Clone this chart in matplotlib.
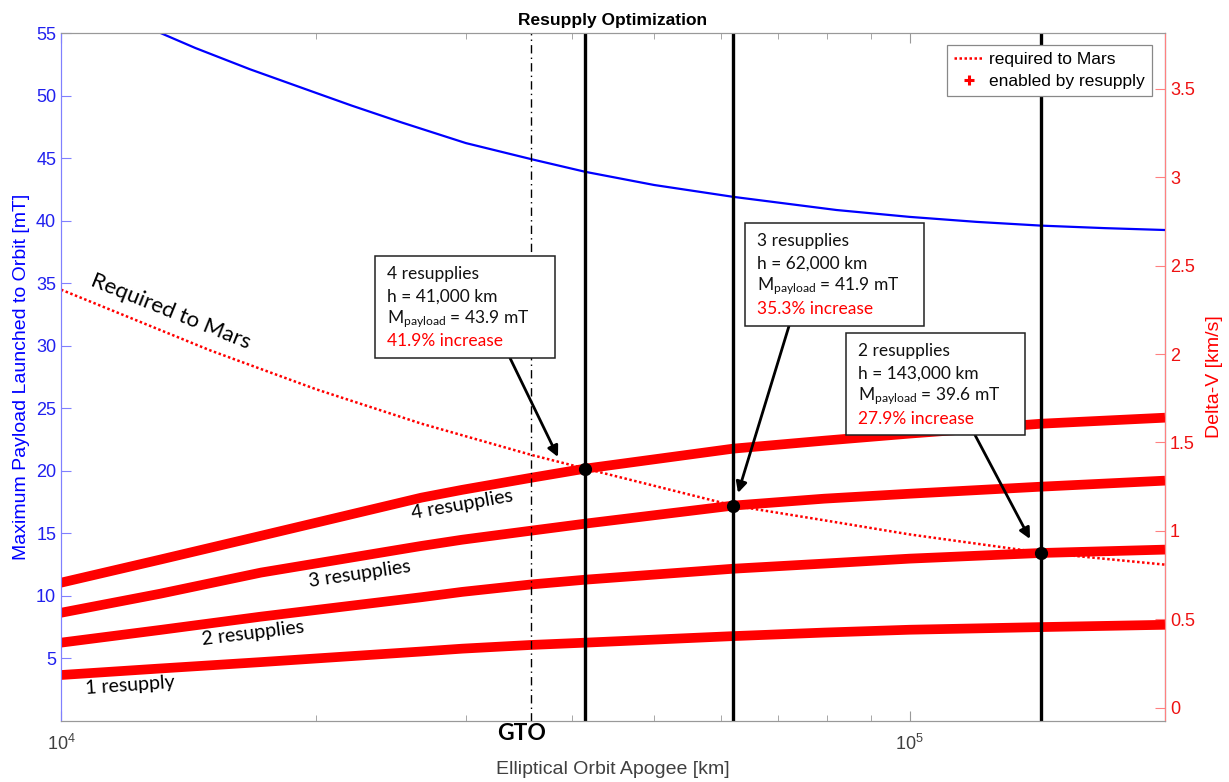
import matplotlib
matplotlib.use("Agg")
import matplotlib.pyplot as plt
from matplotlib.lines import Line2D
from matplotlib.patches import Rectangle
from matplotlib.ticker import FixedLocator, LogLocator, NullFormatter

plt.rcParams["font.family"] = ["Liberation Sans", "DejaVu Sans"]
plt.rcParams["mathtext.default"] = "regular"

# apogee samples [km] for the resupply curves
apogee = [10000, 13100, 17200, 26600, 29700, 35800, 41500, 62000, 79300, 100000, 143000, 200000]
# delta-V enabled by resupply [km/s]
dv_1 = [0.185, 0.222, 0.258, 0.318, 0.334, 0.355, 0.368, 0.405, 0.425, 0.441, 0.456, 0.469]
dv_2 = [0.368, 0.440, 0.515, 0.625, 0.655, 0.697, 0.724, 0.786, 0.815, 0.843, 0.875, 0.894]
dv_3 = [0.537, 0.645, 0.764, 0.915, 0.950, 1.001, 1.041, 1.143, 1.182, 1.210, 1.250, 1.284]
dv_4 = [0.707, 0.838, 0.972, 1.188, 1.232, 1.300, 1.352, 1.465, 1.510, 1.550, 1.606, 1.640]

# delta-V required to Mars [km/s]
mars_apogee = [10000, 15000, 20000, 26600, 35800, 41500, 62000, 79300, 100000, 143000, 200000]
mars_dv = [2.364, 2.02, 1.80, 1.606, 1.43, 1.352, 1.143, 1.06, 0.98, 0.877, 0.809]

# max payload launched to orbit [mT]
payload_apogee = [13100, 14400, 16700, 20000, 22000, 25200, 30000, 35900, 41500, 50000,
                  62000, 82000, 100000, 120000, 143000, 170000, 200000]
payload_mt = [55.0, 53.8, 52.1, 50.2, 49.2, 47.85, 46.2, 44.9, 43.9, 42.85,
              41.9, 40.85, 40.3, 39.9, 39.6, 39.4, 39.25]

gto = 35786
opt_apogee = [41500, 62000, 143000]
opt_dv = [1.352, 1.143, 0.877]

box_text = [
    ["4 resupplies", "h = 41,000 km", "M$_{payload}$ = 43.9 mT", "41.9% increase"],
    ["3 resupplies", "h = 62,000 km", "M$_{payload}$ = 41.9 mT", "35.3% increase"],
    ["2 resupplies", "h = 143,000 km", "M$_{payload}$ = 39.6 mT", "27.9% increase"],
]

W, H = 1229, 782


def px(x, y):
    return (x / W, 1 - y / H)


fig = plt.figure(figsize=(W / 100, H / 100), dpi=100)
ax = fig.add_axes([61 / W, 1 - 721 / H, (1165 - 61) / W, (721 - 33) / H])
ax2 = ax.twinx()

blue = "#0000ff"
red = "#ff0000"

ax.plot(payload_apogee, payload_mt, color=blue, lw=1.6)
ax.set_xscale("log")
ax.set_xlim(1e4, 2e5)
ax.set_ylim(0, 55)
ax.yaxis.set_major_locator(FixedLocator(range(5, 56, 5)))
ax.set_ylabel("Maximum Payload Launched to Orbit [mT]", color=blue, fontsize=14, labelpad=4)
ax.set_xlabel("Elliptical Orbit Apogee [km]", color="#404040", fontsize=14, labelpad=5)
ax.set_title("Resupply Optimization", fontweight="bold", fontsize=12.5, pad=6)

for dv in [dv_1, dv_2, dv_3, dv_4]:
    ax2.plot(apogee, dv, color=red, lw=7.0, solid_capstyle="butt", solid_joinstyle="round")
mars_line, = ax2.plot(mars_apogee, mars_dv, color=red, lw=1.8, ls=(0, (1, 1)))

ax2.axvline(gto, color="k", lw=1.0, ls=(0, (6, 3, 1, 3)))
for h in opt_apogee:
    ax2.axvline(h, color="k", lw=2.4)
ax2.plot(opt_apogee, opt_dv, "o", color="k", ms=8.5)

ax2.set_ylim(-0.075, 3.815)
ax2.yaxis.set_major_locator(FixedLocator([0, 0.5, 1, 1.5, 2, 2.5, 3, 3.5]))
ax2.set_yticklabels(["0", "0.5", "1", "1.5", "2", "2.5", "3", "3.5"])
ax2.set_ylabel("Delta-V [km/s]", color=red, fontsize=14, labelpad=8)

# axis styling, MATLAB-ish inward ticks
ax.xaxis.set_major_locator(LogLocator(base=10, numticks=10))
ax.xaxis.set_minor_locator(LogLocator(base=10, subs=range(2, 10), numticks=20))
ax.xaxis.set_minor_formatter(NullFormatter())
ax.tick_params(axis="x", which="both", direction="in", top=True, colors="#999999",
               labelcolor="#404040", labelsize=13, pad=9)
ax.tick_params(axis="x", which="major", length=7)
ax.tick_params(axis="x", which="minor", length=4)
ax.tick_params(axis="y", direction="in", length=7, colors="#8080ff", labelcolor="#2020ee", labelsize=13)
ax2.tick_params(axis="y", direction="in", length=7, colors="#ff8080", labelcolor="#ee1111", labelsize=13)
for s in ["top", "bottom"]:
    ax.spines[s].set_color("#999999")
    ax2.spines[s].set_color("#999999")
ax2.spines["left"].set_color("#8080ff")
ax2.spines["right"].set_color("#ff8080")
ax.spines["left"].set_color("#8080ff")

plus = Line2D([], [], color=red, marker="+", ls="none", ms=7, mew=2.2)
leg = ax2.legend([mars_line, plus], ["required to Mars", "enabled by resupply"],
                 loc="upper right", bbox_to_anchor=px(1152, 45), bbox_transform=fig.transFigure,
                 borderaxespad=0, fancybox=False, framealpha=1, edgecolor="#888888",
                 fontsize=12.5, handlelength=1.7, handletextpad=0.3, labelspacing=0.35,
                 borderpad=0.42)
leg.get_frame().set_linewidth(0.9)

# curve labels
cal = ["Lato", "DejaVu Sans"]
fig.text(*px(171, 312), "Required to Mars", rotation=-22, fontsize=16, family=cal,
         ha="center", va="center", rotation_mode="anchor")
for xy, s, ang in [((462, 505), "4 resupplies", 10), ((360, 574), "3 resupplies", 8.5),
                   ((253, 633), "2 resupplies", 7), ((130, 685), "1 resupply", 4)]:
    fig.text(*px(*xy), s, rotation=ang, fontsize=14, family=cal,
             ha="center", va="center", rotation_mode="anchor")
fig.text(*px(522, 733), "GTO", fontsize=16.5, fontweight="bold", family=cal, ha="center", va="center")

# annotation boxes
boxes = [(375, 256, 555, 358), (745, 223, 924, 326), (846, 333, 1025, 435)]
arrows = [((510, 358), (558, 457)), ((789, 326), (738, 493)), ((975, 435), (1030, 539))]
for (l, t, r, b), lines, (start, tip) in zip(boxes, box_text, arrows):
    ax2.annotate("", xy=px(*tip), xycoords="figure fraction", xytext=px(*start),
                 textcoords="figure fraction", annotation_clip=False,
                 arrowprops=dict(arrowstyle="-|>", lw=2.0, color="k", mutation_scale=16,
                                 shrinkA=0, shrinkB=0))
    x0, y0 = px(l, b)
    fig.add_artist(Rectangle((x0, y0), (r - l) / W, (b - t) / H, transform=fig.transFigure,
                             facecolor="white", edgecolor="#222222", lw=1.1, zorder=5))
    for i, s in enumerate(lines):
        fig.text(*px(l + 12, t + 18 + 22.5 * i), s, fontsize=12.5, family=cal,
                 color=red if i == 3 else "#111111", ha="left", va="center", zorder=6)

fig.savefig("out.png", dpi=100)
